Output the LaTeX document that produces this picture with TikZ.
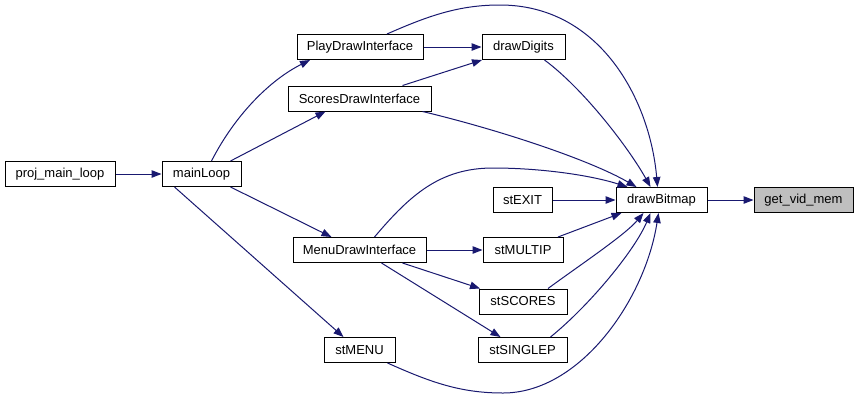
\documentclass[tikz,border=0pt]{standalone}
\usepackage{fontspec}
\setmainfont{Liberation Sans}
\usetikzlibrary{arrows.meta}
\definecolor{edgeblue}{RGB}{25,25,112}
\definecolor{rootgray}{RGB}{191,191,191}
\begin{document}
\begin{tikzpicture}[x=1pt,y=-1pt,
  box/.style={draw=black,line width=1pt,fill=white,minimum height=25,inner sep=0pt,font=\fontsize{13}{15}\selectfont},
  rootbox/.style={box,fill=rootgray},
  edge/.style={draw=edgeblue,line width=1pt,-{Triangle[length=10pt,width=7.5pt]}}]
\useasboundingbox (0,0) rectangle (859,400);
\fill[white] (0,0) rectangle (859,400);
% nodes
\node[box,minimum width=110] (proj) at (60,174) {proj\_main\_loop};
\node[box,minimum width=79] (main) at (201.5,174) {mainLoop};
\node[box,minimum width=126] (play) at (360,47) {PlayDrawInterface};
\node[box,minimum width=83] (digits) at (523.5,47) {drawDigits};
\node[box,minimum width=143] (scores) at (359.5,98.5) {ScoresDrawInterface};
\node[box,minimum width=91] (bitmap) at (661.5,200) {drawBitmap};
\node[rootbox,minimum width=99] (vid) at (803.5,200) {get\_vid\_mem};
\node[box,minimum width=59] (exit) at (522.5,200) {stEXIT};
\node[box,minimum width=133] (menu) at (359.5,250) {MenuDrawInterface};
\node[box,minimum width=80] (multip) at (523,250) {stMULTIP};
\node[box,minimum width=88] (stscores) at (523,301.5) {stSCORES};
\node[box,minimum width=71] (stmenu) at (359.5,350) {stMENU};
\node[box,minimum width=89] (single) at (522.5,350) {stSINGLEP};
% edges
\draw[edge] (proj) -- (main);
\draw[edge] ([xshift=10]main.north) .. controls (235,115) and (270,80) .. ([xshift=-50]play.south);
\draw[edge] ([xshift=-11]main.north east) -- ([xshift=-34]scores.south);
\draw[edge] ([xshift=-11]main.south east) -- ([xshift=-28]menu.north);
\draw[edge] ([xshift=13]main.south west) -- ([xshift=-16]stmenu.north);
\draw[edge] (play) -- (digits);
\draw[edge] ([xshift=43]scores.north) -- ([xshift=-41.5]digits.south);
\draw[edge] ([xshift=27]play.north) .. controls (430,15) and (460,5) .. (500,5) .. controls (600,5) and (650,100) .. ([xshift=-4]bitmap.north);
\draw[edge] ([xshift=63]scores.south) .. controls (500,130) and (590,160) .. ([xshift=-25]bitmap.north);
\draw[edge] ([xshift=21]digits.south) .. controls (585,90) and (630,150) .. ([xshift=-11]bitmap.north);
\draw[edge] ([xshift=15]menu.north) .. controls (410,195) and (440,168) .. (493,168) .. controls (540,168) and (590,175) .. ([xshift=-34]bitmap.north);
\draw[edge] (menu) -- (multip);
\draw[edge] ([xshift=43]menu.south) -- ([xshift=-43]stscores.north);
\draw[edge] ([xshift=22]menu.south) -- ([xshift=-22]single.north);
\draw[edge] (exit) -- (bitmap);
\draw[edge] ([xshift=35]multip.north) -- ([xshift=-40]bitmap.south);
\draw[edge] ([xshift=25]stscores.north) .. controls (580,265) and (625,235) .. ([xshift=-18]bitmap.south);
\draw[edge] ([xshift=28]single.north) .. controls (590,305) and (635,250) .. ([xshift=-11]bitmap.south);
\draw[edge] ([xshift=28]stmenu.south) .. controls (430,382) and (460,393) .. (503,393) .. controls (580,393) and (645,300) .. ([xshift=-3]bitmap.south);
\draw[edge] (bitmap) -- (vid);
\end{tikzpicture}
\end{document}
